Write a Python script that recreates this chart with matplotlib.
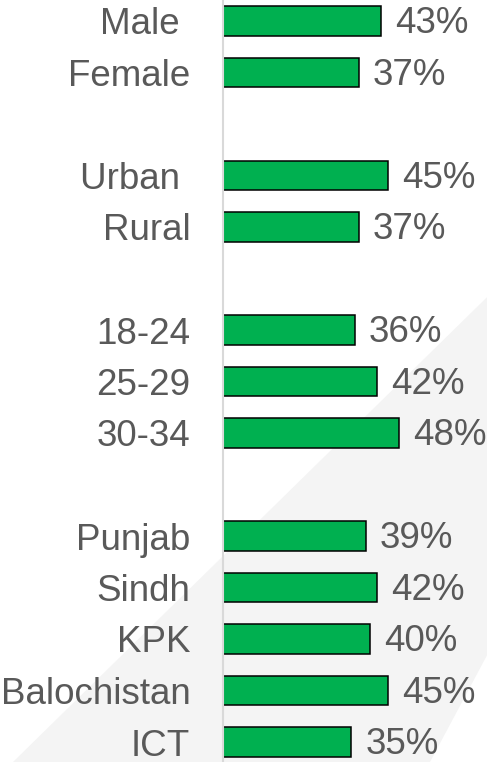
import matplotlib.pyplot as plt
from matplotlib.patches import Polygon

# survey share by demographic group
gender = ["Male ", "Female"]
gender_vals = [43, 37]
area = ["Urban ", "Rural"]
area_vals = [45, 37]
age = ["18-24", "25-29", "30-34"]
age_vals = [36, 42, 48]
province = ["Punjab", "Sindh", "KPK", "Balochistan", "ICT"]
province_vals = [39, 42, 40, 45, 35]

groups = [(gender, gender_vals), (area, area_vals), (age, age_vals), (province, province_vals)]

labels, values, pos = [], [], []
slot = 0
for names, vals in groups:
    for n, v in zip(names, vals):
        labels.append(n)
        values.append(v)
        pos.append(slot)
        slot += 1
    slot += 1  # blank row between groups

plt.rcParams['font.family'] = ['Liberation Sans', 'DejaVu Sans']
txt = '#595959'

fig = plt.figure(figsize=(4.87, 7.62), dpi=100)

# pale diagonal band in the background
band = Polygon([(13/487, 0), (1, 0.61), (1, 0.14), (430/487, 0)], closed=True,
               transform=fig.transFigure, facecolor='#f4f4f4', edgecolor='none', zorder=-5)
fig.patches.append(band)

ax = fig.add_axes([223/487, 0, 1 - 223/487, 1])
ax.patch.set_visible(False)

ax.barh(pos, values, height=0.58, color='#00B050', edgecolor='black', linewidth=1.1, zorder=2)
for p, v in zip(pos, values):
    ax.annotate(f"{v}%", (v, p), xytext=(10, -2), textcoords='offset points',
                va='center', ha='left', fontsize=26.5, color=txt)

ax.set_xlim(0, 264/3.67)
ax.set_ylim(14 + 20/51.5, -21/51.5)
ax.set_yticks(pos)
ax.set_yticklabels(labels, fontsize=26.5, color=txt)
ax.tick_params(axis='y', length=0, pad=23.5)
ax.set_xticks([])
for s in ['top', 'right', 'bottom']:
    ax.spines[s].set_visible(False)
ax.spines['left'].set_color('#d9d9d9')
ax.spines['left'].set_linewidth(1.5)

fig.savefig('out.png', dpi=100)
